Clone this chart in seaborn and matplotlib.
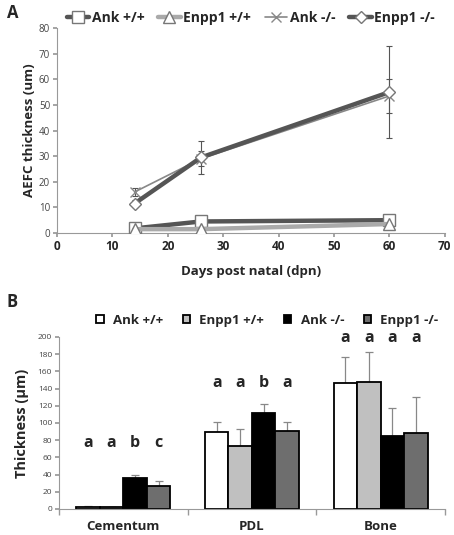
import numpy as np
import pandas as pd
import matplotlib
matplotlib.use("Agg")
import matplotlib.pyplot as plt
import seaborn as sns

# Panel A data
days = [14, 26, 60]
ank_wt = [1.8, 4.5, 5.0]
enpp1_wt = [1.5, 1.5, 3.5]
ank_ko = [16.0, 29.0, 53.5]
enpp1_ko = [11.5, 29.5, 55.0]
ank_wt_err = [0.5, 0.8, 2.0]
enpp1_wt_err = [0.3, 0.3, 0.5]
ank_ko_err = [1.5, 3.0, 6.5]
enpp1_ko_err = [1.5, 6.5, 18.0]

# Panel B data
tissues = ["Cementum", "PDL", "Bone"]
genotypes = ["Ank +/+", "Enpp1 +/+", "Ank -/-", "Enpp1 -/-"]
thickness = {
    "Ank +/+": [2.5, 89, 147],
    "Enpp1 +/+": [2.0, 73, 148],
    "Ank -/-": [36, 112, 85],
    "Enpp1 -/-": [27, 91, 88],
}
thickness_err = {
    "Ank +/+": [0.6, 12, 30],
    "Enpp1 +/+": [0.5, 20, 34],
    "Ank -/-": [3, 10, 33],
    "Enpp1 -/-": [5, 10, 42],
}
letters = {
    "Cementum": ["a", "a", "b", "c"],
    "PDL": ["a", "a", "b", "a"],
    "Bone": ["a", "a", "a", "a"],
}
letter_y = {"Cementum": 68, "PDL": 137, "Bone": 189}

sns.set_theme(style="white")
plt.rcParams["font.family"] = ["Open Sans", "DejaVu Sans"]

fig = plt.figure(figsize=(4.54, 5.35), dpi=100)
ax1 = fig.add_axes([0.1256, 0.5645, 0.854, 0.383])
ax2 = fig.add_axes([0.130, 0.0486, 0.850, 0.3215])

# ---- Panel A
series = [
    ("Ank +/+", ank_wt, ank_wt_err, "#555555", "s", 3.2, 8),
    ("Enpp1 +/+", enpp1_wt, enpp1_wt_err, "#aaaaaa", "^", 3.2, 8),
    ("Ank -/-", ank_ko, ank_ko_err, "#888888", "x", 1.2, 7),
    ("Enpp1 -/-", enpp1_ko, enpp1_ko_err, "#555555", "D", 3.2, 6),
]
for name, vals, err, col, mk, lw, ms in series:
    ax1.errorbar(days, vals, yerr=err, fmt="none", ecolor="#555555",
                 elinewidth=0.8, capsize=2.5, capthick=0.8, zorder=1)
for name, vals, err, col, mk, lw, ms in series:
    sns.lineplot(x=days, y=vals, ax=ax1, color=col, lw=lw, marker=mk,
                 markersize=ms, markerfacecolor="white",
                 markeredgecolor="#777777" if mk != "x" else col,
                 markeredgewidth=1.0, label=name, zorder=3)

ax1.set_xlim(0, 70)
ax1.set_ylim(0, 80)
ax1.set_xticks(range(0, 71, 10))
ax1.set_yticks(range(0, 81, 10))
ax1.tick_params(axis="x", labelsize=8.5, length=3, color="#999999", pad=2)
ax1.tick_params(axis="y", labelsize=7, length=3, color="#999999",
                labelcolor="#444444", pad=2)
for lab in ax1.get_xticklabels():
    lab.set_fontweight("bold")
ax1.tick_params(bottom=True, left=True, direction="out")
for s in ["top", "right"]:
    ax1.spines[s].set_visible(False)
for s in ["left", "bottom"]:
    ax1.spines[s].set_color("#999999")
    ax1.spines[s].set_linewidth(0.8)
ax1.set_xlabel("Days post natal (dpn)", fontsize=9.5, fontweight="bold",
               labelpad=9)
ax1.set_ylabel("AEFC thickness (um)", fontsize=9.5, fontweight="bold",
               labelpad=2)
ax1.legend(loc="lower center", bbox_to_anchor=(0.5, 0.99), ncol=4,
           frameon=False, prop={"weight": "bold", "size": 10},
           handlelength=1.6, handletextpad=0.2, columnspacing=1.0,
           borderaxespad=0)

# ---- Panel B
df = pd.DataFrame([
    {"tissue": t, "genotype": g, "value": thickness[g][i]}
    for g in genotypes for i, t in enumerate(tissues)
])
bar_colors = ["white", "#c0c0c0", "black", "#6e6e6e"]
sns.barplot(data=df, x="tissue", y="value", hue="genotype", order=tissues,
            hue_order=genotypes, palette=bar_colors, ax=ax2,
            edgecolor="black", linewidth=1.3, width=0.73, errorbar=None,
            legend=True)

for gi, g in enumerate(genotypes):
    cont = ax2.containers[gi]
    xs = [p.get_x() + p.get_width() / 2 for p in cont.patches]
    ax2.errorbar(xs, thickness[g], yerr=[np.zeros(3), thickness_err[g]],
                 fmt="none", ecolor="#888888", elinewidth=0.9,
                 capsize=3, capthick=0.9, zorder=0)
    for ti, t in enumerate(tissues):
        ax2.text(xs[ti], letter_y[t], letters[t][gi], ha="center",
                 va="bottom", fontsize=11.5, fontweight="bold")

ax2.set_ylim(0, 200)
ax2.set_xlim(-0.5, 2.5)
ax2.set_yticks(range(0, 201, 20))
ax2.set_xticks([0, 1, 2])
ax2.set_xticklabels(tissues, fontweight="bold", fontsize=9.5)
ax2.set_xticks([-0.5, 0.5, 1.5, 2.5], minor=True)
ax2.tick_params(axis="x", which="major", length=0, pad=8)
ax2.tick_params(axis="x", which="minor", length=4, color="#999999",
                bottom=True)
ax2.tick_params(axis="y", labelsize=6, length=3, color="#999999",
                labelcolor="#444444", left=True, pad=2)
for s in ["top", "right"]:
    ax2.spines[s].set_visible(False)
for s in ["left", "bottom"]:
    ax2.spines[s].set_color("#999999")
    ax2.spines[s].set_linewidth(0.8)
ax2.set_xlabel("")
ax2.set_ylabel("Thickness (\u00b5m)", fontsize=10.5, fontweight="bold",
               labelpad=6)
ax2.legend(loc="lower center", bbox_to_anchor=(0.54, 1.03), ncol=4,
           frameon=False, prop={"weight": "bold", "size": 9.5},
           handlelength=0.55, handleheight=0.55, handletextpad=0.7,
           columnspacing=1.5, borderaxespad=0)

fig.text(0.015, 0.975, "A", fontsize=12, fontweight="bold", va="center")
fig.text(0.015, 0.435, "B", fontsize=12, fontweight="bold", va="center")

fig.savefig("out.png", dpi=100)
